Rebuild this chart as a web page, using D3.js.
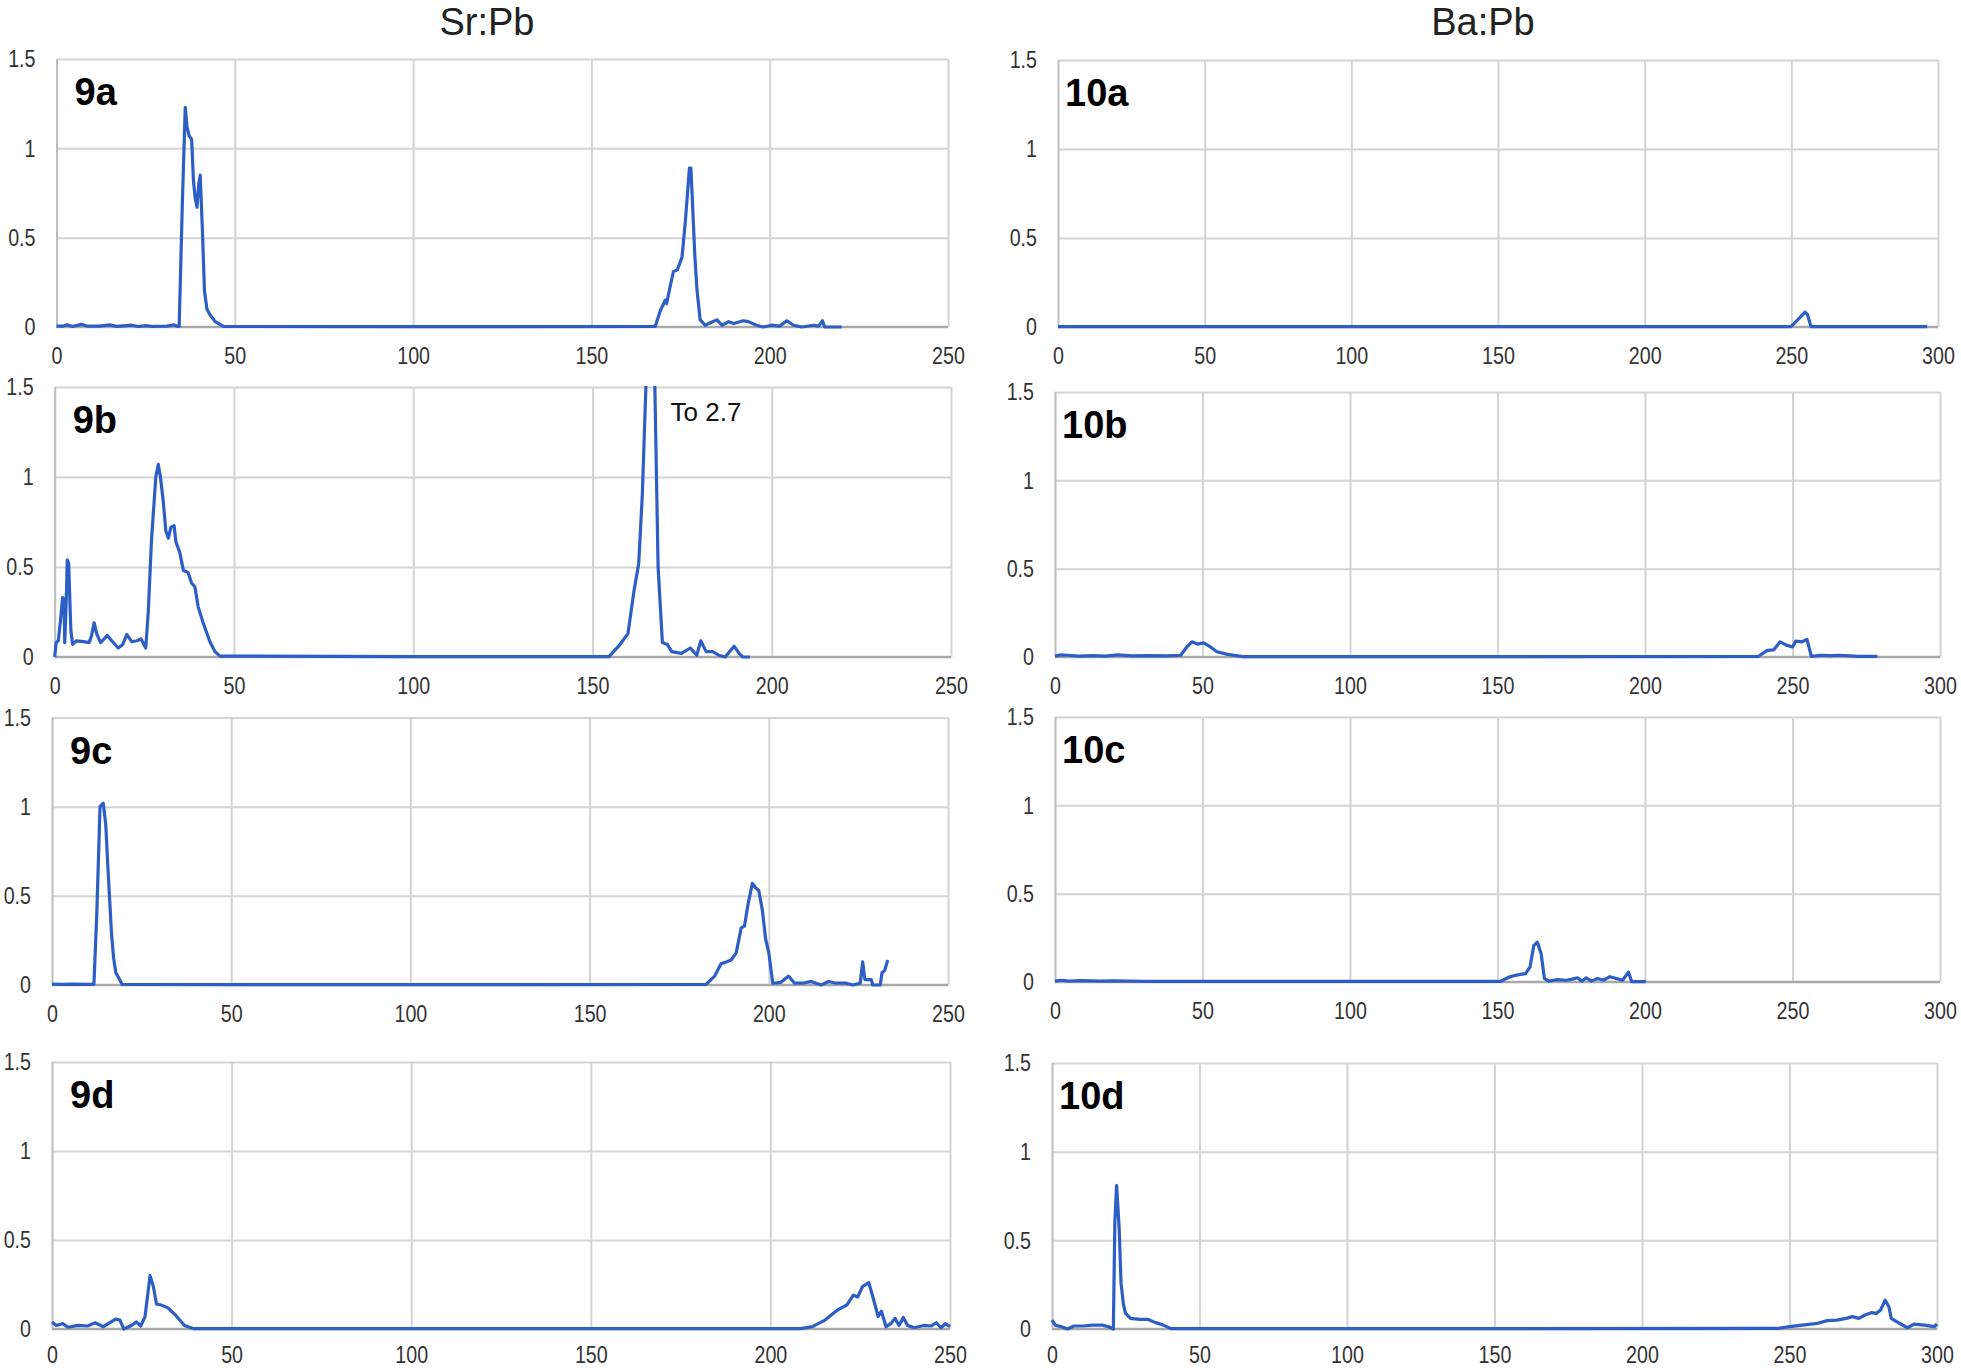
<!DOCTYPE html>
<html>
<head>
<meta charset="utf-8">
<script src="https://cdn.jsdelivr.net/npm/d3@7"></script>
<style>
  body { margin: 0; background: #fff; }
  svg { display: block; }
  .tick text { font-family: "Liberation Sans", Arial, sans-serif; font-size: 24px; fill: #333; }
</style>
</head>
<body>
<div id="chart"></div>
<script>
// ---- data ----
const sr9a = [[0,0.005],[2,0.005],[3,0.012],[4.5,0.003],[7,0.015],[8.5,0.005],[12,0.005],[15,0.012],[17,0.003],[21,0.01],[23,0.003],[25,0.008],[27,0.003],[31,0.005],[33,0.012],[34,0.003],[34.4,0.005],
  [35.3,0.7],[36.1,1.23],[36.6,1.12],[37.2,1.07],[37.9,1.05],[38.4,0.82],[38.9,0.72],[39.4,0.67],[39.9,0.8],[40.3,0.85],[40.9,0.55],[41.5,0.2],[42.2,0.1],[43,0.07],[44.5,0.03],[46.8,0.003],
  [100,0.002],[167.9,0.003],[169.3,0.09],[170.7,0.15],[171.1,0.13],[172,0.22],[173,0.31],[174.1,0.32],[175.4,0.39],[176.3,0.58],[177.5,0.89],[177.9,0.89],[178.4,0.67],[179,0.4],[179.6,0.21],[180.5,0.04],
  [181.9,0.01],[183.5,0.025],[185.2,0.04],[186.6,0.01],[188.5,0.03],[189.9,0.02],[192.6,0.035],[194,0.03],[196.3,0.01],[198.2,0.0],[200.5,0.01],[202.8,0.005],[204.8,0.035],[206.7,0.01],[209,0],
  [212.3,0.01],[213.7,0.005],[214.8,0.035],[215.4,0],[220.2,0]];

const sr9b = [[0,0.0],[0.4,0.08],[1,0.09],[1.6,0.2],[2.2,0.33],[2.6,0.32],[2.8,0.08],[3.2,0.3],[3.5,0.54],[3.9,0.52],[4.5,0.15],[5.0,0.07],[6.1,0.09],[8.0,0.085],[9.6,0.08],[10.3,0.12],[11.0,0.19],
  [11.7,0.13],[12.8,0.08],[14.7,0.12],[15.9,0.09],[17.7,0.05],[19,0.07],[20.1,0.125],[21.5,0.085],[22.9,0.09],[24.1,0.1],[25.4,0.05],[26.1,0.25],[27.0,0.65],[28.2,1.0],[28.9,1.07],[29.5,1.0],
  [30.3,0.86],[31.0,0.7],[31.7,0.66],[32.4,0.72],[33.3,0.73],[33.8,0.64],[34.9,0.58],[35.9,0.48],[37.2,0.47],[38.2,0.41],[39.1,0.39],[40.0,0.28],[41.4,0.19],[43.3,0.085],[44.7,0.03],[46.1,0.005],
  [100,0.002],[154.6,0.002],[157.3,0.06],[159.9,0.13],[161.6,0.37],[162.9,0.52],[163.9,0.9],[164.9,1.5],[166.1,2.7],[167.4,1.5],[168.3,0.5],[169.5,0.08],[170.9,0.07],[172.1,0.03],[174.8,0.02],
  [177.3,0.05],[179.1,0.01],[180.2,0.09],[181.7,0.03],[183.5,0.03],[185.2,0.01],[187,0.0],[189.5,0.06],[190.9,0.02],[192,0.0],[193.9,0.0]];

const sr9c = [[0,0.005],[3,0.003],[6,0.005],[10,0.003],[11.7,0.005],[12.5,0.4],[13.4,1.0],[14.3,1.02],[15,0.9],[15.6,0.66],[16.6,0.29],[17.2,0.15],[17.8,0.07],[19.6,0.003],
  [100,0.002],[182.5,0.003],[184.9,0.05],[186.7,0.12],[188.3,0.13],[189.5,0.14],[190.9,0.18],[192.3,0.32],[193.2,0.33],[194.1,0.44],[195.4,0.57],[196.3,0.545],[197.2,0.53],[198.2,0.42],
  [199.1,0.26],[200,0.18],[201.1,0.01],[203.4,0.015],[205.5,0.05],[207.2,0.01],[209.5,0.01],[211.8,0.02],[214.6,0.0],[216.7,0.02],[218.8,0.01],[221.6,0.01],[223.4,0.0],[225.5,0.01],
  [226.2,0.13],[226.8,0.03],[227.6,0.03],[228.6,0.03],[229,0],[231.1,0],[231.6,0.07],[232.3,0.08],[233.2,0.14]];

const sr9d = [[0,0.04],[1.2,0.02],[3,0.03],[4.4,0.01],[7.3,0.02],[9.9,0.017],[12,0.035],[14.3,0.013],[17.7,0.056],[18.9,0.05],[20,0.0],[22.1,0.02],[23.5,0.04],[24.7,0.017],[25.9,0.07],
  [27.3,0.3],[28.2,0.24],[29.1,0.14],[30.4,0.135],[32.2,0.12],[34.3,0.08],[36.9,0.02],[39.5,0.002],[100,0.002],[208.3,0.002],[211.7,0.013],[215.2,0.05],[218.7,0.107],[221.3,0.135],
  [223.1,0.19],[224.3,0.18],[225.7,0.24],[227.4,0.26],[228.8,0.16],[230,0.07],[230.9,0.1],[232.2,0.013],[233.5,0.03],[234.7,0.06],[235.8,0.02],[237,0.065],[238.2,0.02],[240,0.007],
  [242.7,0.02],[244.8,0.017],[246.2,0.035],[247.5,0.007],[248.7,0.03],[250,0.013]];

const ba10a = [[0,0.002],[100,0.002],[200,0.002],[249.9,0.002],[254.7,0.084],[255.5,0.07],[256.7,0.002],[296.3,0.002]];

const ba10b = [[0,0.005],[2,0.012],[4.3,0.01],[8,0.005],[13,0.008],[17,0.005],[21.3,0.012],[26,0.006],[32,0.008],[38,0.006],[42.6,0.01],[44.7,0.057],[46.4,0.086],[48.3,0.073],[50.4,0.08],
  [52.7,0.057],[54.9,0.03],[58.5,0.015],[63.8,0.002],[150,0.002],[238.3,0.003],[241.5,0.038],[243.6,0.04],[245.8,0.086],[247.9,0.067],[250,0.057],[251.1,0.09],[253.2,0.086],[254.9,0.1],
  [256.4,0.004],[259.6,0.01],[263,0.008],[266,0.01],[272.4,0.004],[278.8,0.003]];

const ba10c = [[0,0.005],[2,0.01],[5,0.005],[9,0.008],[15,0.005],[20,0.006],[30,0.004],[100,0.003],[151.1,0.004],[154.2,0.03],[156.8,0.04],[159.5,0.047],[161,0.084],[162.3,0.206],[163.5,0.225],
  [164.8,0.16],[165.9,0.02],[167.4,0.005],[170.1,0.013],[173.3,0.01],[175,0.015],[177.1,0.024],[178.6,0.005],[180.1,0.024],[181.8,0.005],[183.9,0.02],[186,0.01],[188.1,0.03],[190.3,0.02],
  [192.4,0.01],[194.4,0.056],[195.5,0.002],[200.3,0.002]];

const ba10d = [[0,0.05],[1.1,0.022],[3.2,0.013],[5.3,0.0],[7.4,0.017],[10.6,0.017],[13.8,0.022],[17,0.022],[19.2,0.013],[20.8,0.0],[21.3,0.6],[21.9,0.81],[22.8,0.56],[23.4,0.26],[24.2,0.14],
  [24.9,0.09],[26.6,0.06],[29.8,0.054],[32.6,0.054],[35.1,0.036],[37.7,0.022],[40.4,0.002],[150,0.002],[245.8,0.003],[250,0.013],[254.3,0.022],[259.6,0.032],[262.8,0.047],[266,0.05],
  [269.2,0.06],[271.3,0.07],[273.5,0.06],[275.6,0.079],[277.7,0.092],[279.4,0.088],[280.9,0.107],[282.4,0.163],[283.7,0.125],[284.5,0.06],[287.3,0.032],[290,0.007],[292.2,0.028],
  [295.8,0.022],[299,0.013],[300,0.028]];

const srTicks = [0, 50, 100, 150, 200, 250];
const baTicks = [0, 50, 100, 150, 200, 250, 300];
const yTicks = [0, 0.5, 1, 1.5];
const columnTitles = ["Sr:Pb", "Ba:Pb"];
const panelNames = ["9a", "9b", "9c", "9d", "10a", "10b", "10c", "10d"];
const note = { panel: "9b", text: "To 2.7", x: 171.8, y: 1.31 };

// ---- layout ----
const width = 1961, height = 1368;
const boxes = [
  { left: 56.5, right: 948, top: 59,    bottom: 327 },
  { left: 54.7, right: 951, top: 387,   bottom: 657 },
  { left: 52,   right: 948, top: 717.5, bottom: 985 },
  { left: 52,   right: 950, top: 1062,  bottom: 1329 },
  { left: 1058, right: 1938, top: 60,   bottom: 327 },
  { left: 1055, right: 1940, top: 392,  bottom: 657 },
  { left: 1055, right: 1940, top: 717,  bottom: 982 },
  { left: 1052, right: 1937, top: 1063, bottom: 1329 }
];
const titlePos = [487, 1483];
const lineColor = "#2d5ec6";
const gridColor = "#d4d4d4";
const narrow = 0.82;

const series = [sr9a, sr9b, sr9c, sr9d, ba10a, ba10b, ba10c, ba10d];

const svg = d3.select("#chart").append("svg")
    .attr("width", width)
    .attr("height", height);

// column titles
svg.selectAll(".col-title")
    .data(columnTitles)
    .enter().append("text")
    .attr("class", "col-title")
    .attr("x", (d, i) => titlePos[i])
    .attr("y", 35)
    .attr("text-anchor", "middle")
    .style("font-family", "Liberation Sans, Arial, sans-serif")
    .style("font-size", "38px")
    .style("fill", "#222")
    .text(d => d);

series.forEach((data, i) => {
    const b = boxes[i];
    const w = b.right - b.left, h = b.bottom - b.top;
    const xTicks = i < 4 ? srTicks : baTicks;
    const name = panelNames[i];
    const lastRow = i % 4 === 3;

    const x = d3.scaleLinear().domain([0, d3.max(xTicks)]).range([0, w]);
    const y = d3.scaleLinear().domain([0, 1.5]).range([h, 0]);

    const g = svg.append("g").attr("transform", `translate(${b.left},${b.top})`);

    // horizontal gridlines
    g.append("g")
        .call(d3.axisLeft(y).tickValues(yTicks.filter(t => t > 0)).tickSize(-w).tickFormat(""))
        .call(s => s.select(".domain").remove())
        .call(s => s.selectAll("line").attr("stroke", gridColor).attr("stroke-width", 2));

    // vertical gridlines (incl. left edge)
    g.append("g")
        .attr("transform", `translate(0,${h})`)
        .call(d3.axisBottom(x).tickValues(xTicks).tickSize(-h).tickFormat(""))
        .call(s => s.select(".domain").remove())
        .call(s => s.selectAll("line")
            .attr("stroke", d => d === 0 ? "#bdbdbd" : gridColor)
            .attr("stroke-width", 2));

    // baseline
    g.append("line")
        .attr("x1", 0).attr("x2", w)
        .attr("y1", y(0)).attr("y2", y(0))
        .attr("stroke", "#a8a8a8")
        .attr("stroke-width", 2.5);

    // x tick labels
    g.append("g")
        .attr("transform", `translate(0,${h})`)
        .call(d3.axisBottom(x).tickValues(xTicks).tickSize(0).tickPadding(lastRow ? 17 : 20))
        .call(s => s.select(".domain").remove())
        .call(s => s.selectAll("text").attr("transform", `scale(${narrow},1)`));

    // y tick labels
    g.append("g")
        .call(d3.axisLeft(y).tickValues(yTicks).tickSize(0).tickFormat(d3.format("")))
        .call(s => s.select(".domain").remove())
        .call(s => s.selectAll("text")
            .attr("x", -21 / narrow)
            .attr("transform", `scale(${narrow},1)`));

    // clip for values beyond 1.5
    const clipId = "clip-" + name;
    g.append("clipPath").attr("id", clipId)
      .append("rect")
        .attr("x", -3).attr("y", -1)
        .attr("width", w + 6).attr("height", h + 5);

    const line = d3.line()
        .x(d => x(d[0]))
        .y(d => y(d[1]));

    g.append("path")
        .datum(data)
        .attr("clip-path", `url(#${clipId})`)
        .attr("fill", "none")
        .attr("stroke", lineColor)
        .attr("stroke-width", 3.2)
        .attr("stroke-linejoin", "round")
        .attr("d", line);

    // panel label
    g.append("text")
        .attr("x", i < 4 ? 18 : 7)
        .attr("y", 46)
        .style("font-family", "Liberation Sans, Arial, sans-serif")
        .style("font-weight", "bold")
        .style("font-size", "38px")
        .style("fill", "#000")
        .text(name);

    if (name === note.panel) {
        g.append("text")
            .attr("x", x(note.x))
            .attr("y", y(note.y))
            .style("font-family", "Liberation Sans, Arial, sans-serif")
            .style("font-size", "26px")
            .style("fill", "#111")
            .text(note.text);
    }
});
</script>
</body>
</html>
